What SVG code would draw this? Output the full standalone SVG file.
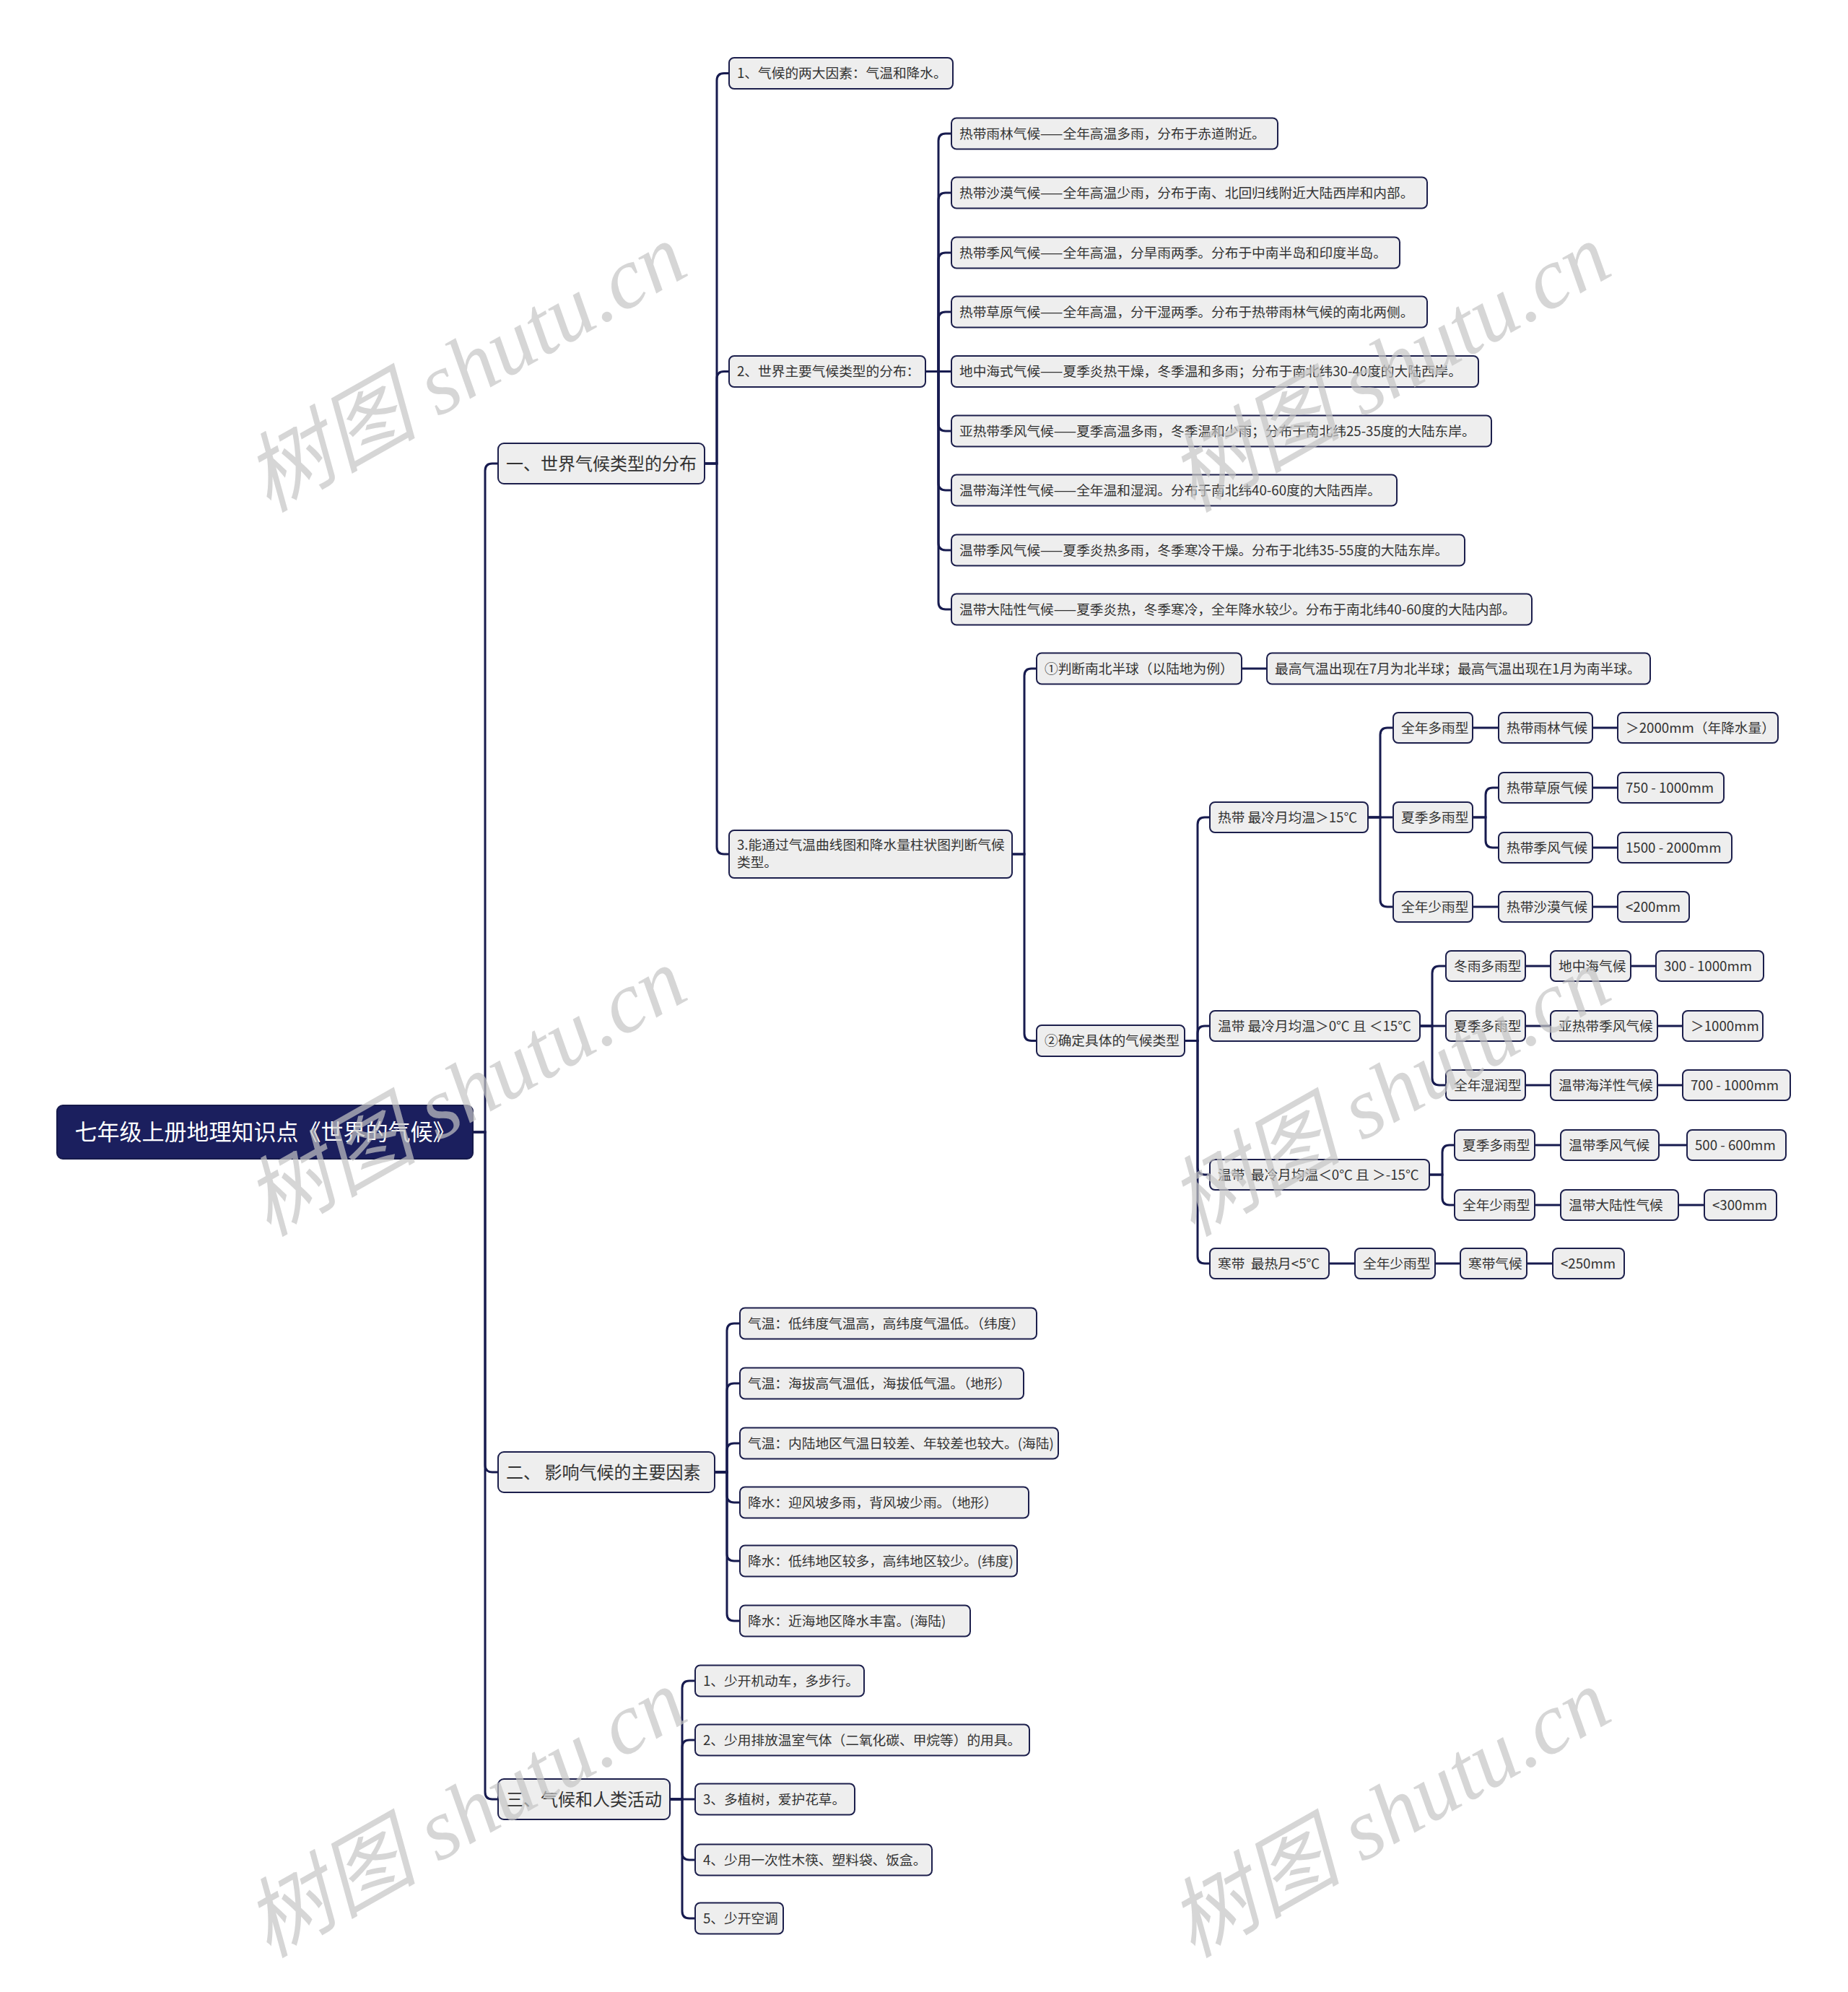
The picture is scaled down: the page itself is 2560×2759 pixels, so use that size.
<svg xmlns="http://www.w3.org/2000/svg" width="2560" height="2759" viewBox="0 0 2560 2759">
<style>
text { white-space: pre; font-family: "Noto Sans CJK SC", "Noto Sans", "Liberation Sans", sans-serif; }
.n rect { fill: #eeeeee; stroke: #1c1f4c; stroke-width: 2; }
.n text { font-size: 18.7px; fill: #333333; }
.l1 rect { fill: #eeeeee; stroke: #1c1f4c; stroke-width: 2; }
.l1 text { font-size: 24px; fill: #333333; }
.root rect { fill: #1b1f5e; stroke: #15194a; stroke-width: 2; }
.root text { font-size: 31px; fill: #ffffff; text-anchor: middle; }
.c path { fill: none; stroke: #171b4f; stroke-width: 3; }
.wm text { font-family: "Liberation Serif", "Noto Sans CJK SC", serif; font-style: italic; font-size: 120px; fill: #c4c4c4; fill-opacity: 0.7; text-anchor: middle; }
</style>
<rect width="2560" height="2759" fill="#ffffff"/>

<g id="connectors" class="c">
<path d="M655 1568 H672 V652 Q672 642 682 642 H690"/>
<path d="M655 1568 H672 V2029 Q672 2039 682 2039 H690"/>
<path d="M655 1568 H672 V2482 Q672 2492 682 2492 H690"/>

<path d="M976 642 H993 V111.5 Q993 101.5 1003 101.5 H1010"/>
<path d="M976 642 H993 V524.5 Q993 514.5 1003 514.5 H1010"/>
<path d="M976 642 H993 V1173 Q993 1183 1003 1183 H1010"/>

<path d="M1282 514.5 H1300 V195 Q1300 185 1310 185 H1318"/>
<path d="M1282 514.5 H1300 V277 Q1300 267 1310 267 H1318"/>
<path d="M1282 514.5 H1300 V360 Q1300 350 1310 350 H1318"/>
<path d="M1282 514.5 H1300 V442 Q1300 432 1310 432 H1318"/>
<path d="M1282 514.5 H1318"/>
<path d="M1282 514.5 H1300 V587 Q1300 597 1310 597 H1318"/>
<path d="M1282 514.5 H1300 V669 Q1300 679 1310 679 H1318"/>
<path d="M1282 514.5 H1300 V752 Q1300 762 1310 762 H1318"/>
<path d="M1282 514.5 H1300 V834 Q1300 844 1310 844 H1318"/>

<path d="M1402 1183 H1419 V936 Q1419 926 1429 926 H1436"/>
<path d="M1402 1183 H1419 V1431.5 Q1419 1441.5 1429 1441.5 H1436"/>
<path d="M1720 926 H1755"/>

<path d="M1641 1441.5 H1659 V1142 Q1659 1132 1669 1132 H1676"/>
<path d="M1641 1441.5 H1659 V1431 Q1659 1421 1669 1421 H1676"/>
<path d="M1641 1441.5 H1659 V1617 Q1659 1627 1669 1627 H1676"/>
<path d="M1641 1441.5 H1659 V1740 Q1659 1750 1669 1750 H1676"/>

<path d="M1895 1132 H1912 V1018 Q1912 1008 1922 1008 H1930"/>
<path d="M1895 1132 H1930"/>
<path d="M1895 1132 H1912 V1246 Q1912 1256 1922 1256 H1930"/>
<path d="M2040 1008 H2076"/>
<path d="M2206 1008 H2241"/>
<path d="M2040 1132 H2058 V1101 Q2058 1091 2068 1091 H2076"/>
<path d="M2040 1132 H2058 V1164 Q2058 1174 2068 1174 H2076"/>
<path d="M2206 1091 H2241"/>
<path d="M2206 1174 H2241"/>
<path d="M2040 1256 H2076"/>
<path d="M2206 1256 H2241"/>

<path d="M1967 1421 H1984 V1348 Q1984 1338 1994 1338 H2003"/>
<path d="M1967 1421 H2003"/>
<path d="M1967 1421 H1984 V1493 Q1984 1503 1994 1503 H2003"/>
<path d="M2113 1338 H2148"/>
<path d="M2259 1338 H2294"/>
<path d="M2113 1421 H2148"/>
<path d="M2296 1421 H2331"/>
<path d="M2113 1503 H2148"/>
<path d="M2296 1503 H2331"/>

<path d="M1980 1627 H1998 V1596 Q1998 1586 2008 1586 H2015"/>
<path d="M1980 1627 H1998 V1659 Q1998 1669 2008 1669 H2015"/>
<path d="M2126 1586 H2162"/>
<path d="M2298 1586 H2337"/>
<path d="M2126 1669 H2162"/>
<path d="M2325 1669 H2361"/>

<path d="M1841 1750 H1877"/>
<path d="M1988 1750 H2023"/>
<path d="M2115 1750 H2151"/>

<path d="M990 2039 H1007 V1843 Q1007 1833 1017 1833 H1025"/>
<path d="M990 2039 H1007 V1926 Q1007 1916 1017 1916 H1025"/>
<path d="M990 2039 H1007 V2009 Q1007 1999 1017 1999 H1025"/>
<path d="M990 2039 H1007 V2071 Q1007 2081 1017 2081 H1025"/>
<path d="M990 2039 H1007 V2152 Q1007 2162 1017 2162 H1025"/>
<path d="M990 2039 H1007 V2235 Q1007 2245 1017 2245 H1025"/>

<path d="M928 2492 H945 V2338 Q945 2328 955 2328 H963"/>
<path d="M928 2492 H945 V2420 Q945 2410 955 2410 H963"/>
<path d="M928 2492 H963"/>
<path d="M928 2492 H945 V2566 Q945 2576 955 2576 H963"/>
<path d="M928 2492 H945 V2647 Q945 2657 955 2657 H963"/>
</g>

<g id="root" class="root"><rect x="79" y="1531" width="576" height="74" rx="8"/><text x="367" y="1579">七年级上册地理知识点《世界的气候》</text></g>

<g id="s1" class="l1"><rect x="690" y="614" width="286" height="56" rx="8"/><text x="701" y="650.5">一、世界气候类型的分布</text></g>
<g id="s2" class="l1"><rect x="690" y="2011" width="300" height="56" rx="8"/><text x="701" y="2047.5">二、 影响气候的主要因素</text></g>
<g id="s3" class="l1"><rect x="690" y="2464" width="238" height="56" rx="8"/><text x="701" y="2500.5">三、气候和人类活动</text></g>

<g id="s1-1" class="n"><rect x="1010" y="80" width="310" height="43" rx="7"/><text x="1021" y="108">1、气候的两大因素：气温和降水。</text></g>
<g id="s1-2" class="n"><rect x="1010" y="493" width="272" height="43" rx="7"/><text x="1021" y="521">2、世界主要气候类型的分布：</text></g>
<g id="s1-3" class="n"><rect x="1010" y="1150" width="392" height="66" rx="7"/><text x="1021" y="1177">3.能通过气温曲线图和降水量柱状图判断气候</text><text x="1021" y="1201">类型。</text></g>

<g id="c1" class="n"><rect x="1318" y="163.5" width="452" height="43" rx="7"/><text x="1329" y="191.5">热带雨林气候——全年高温多雨，分布于赤道附近。</text></g>
<g id="c2" class="n"><rect x="1318" y="245.5" width="659" height="43" rx="7"/><text x="1329" y="273.5">热带沙漠气候——全年高温少雨，分布于南、北回归线附近大陆西岸和内部。</text></g>
<g id="c3" class="n"><rect x="1318" y="328.5" width="621" height="43" rx="7"/><text x="1329" y="356.5">热带季风气候——全年高温，分旱雨两季。分布于中南半岛和印度半岛。</text></g>
<g id="c4" class="n"><rect x="1318" y="410.5" width="659" height="43" rx="7"/><text x="1329" y="438.5">热带草原气候——全年高温，分干湿两季。分布于热带雨林气候的南北两侧。</text></g>
<g id="c5" class="n"><rect x="1318" y="493" width="730" height="43" rx="7"/><text x="1329" y="521">地中海式气候——夏季炎热干燥，冬季温和多雨；分布于南北纬30-40度的大陆西岸。</text></g>
<g id="c6" class="n"><rect x="1318" y="575.5" width="748" height="43" rx="7"/><text x="1329" y="603.5">亚热带季风气候——夏季高温多雨，冬季温和少雨；分布于南北纬25-35度的大陆东岸。</text></g>
<g id="c7" class="n"><rect x="1318" y="657.5" width="617" height="43" rx="7"/><text x="1329" y="685.5">温带海洋性气候——全年温和湿润。分布于南北纬40-60度的大陆西岸。</text></g>
<g id="c8" class="n"><rect x="1318" y="740.5" width="711" height="43" rx="7"/><text x="1329" y="768.5">温带季风气候——夏季炎热多雨，冬季寒冷干燥。分布于北纬35-55度的大陆东岸。</text></g>
<g id="c9" class="n"><rect x="1318" y="822.5" width="804" height="43" rx="7"/><text x="1329" y="850.5">温带大陆性气候——夏季炎热，冬季寒冷，全年降水较少。分布于南北纬40-60度的大陆内部。</text></g>

<g id="j1" class="n"><rect x="1436" y="904.5" width="284" height="43" rx="7"/><text x="1447" y="932.5">①判断南北半球（以陆地为例）</text></g>
<g id="j1a" class="n"><rect x="1755" y="904.5" width="531" height="43" rx="7"/><text x="1766" y="932.5">最高气温出现在7月为北半球；最高气温出现在1月为南半球。</text></g>
<g id="j2" class="n"><rect x="1436" y="1420" width="205" height="43" rx="7"/><text x="1447" y="1448">②确定具体的气候类型</text></g>

<g id="z1" class="n"><rect x="1676" y="1111" width="219" height="42" rx="7"/><text x="1687" y="1138.5">热带 最冷月均温＞15℃</text></g>
<g id="z2" class="n"><rect x="1676" y="1400" width="291" height="42" rx="7"/><text x="1687" y="1427.5">温带 最冷月均温＞0℃ 且 ＜15℃</text></g>
<g id="z3" class="n"><rect x="1676" y="1606" width="304" height="42" rx="7"/><text x="1687" y="1633.5">温带  最冷月均温＜0℃ 且 ＞-15℃</text></g>
<g id="z4" class="n"><rect x="1676" y="1729" width="165" height="42" rx="7"/><text x="1687" y="1756.5">寒带  最热月&lt;5℃</text></g>

<g id="t1" class="n"><rect x="1930" y="987" width="110" height="42" rx="7"/><text x="1941" y="1014.5">全年多雨型</text></g>
<g id="t1a" class="n"><rect x="2076" y="987" width="130" height="42" rx="7"/><text x="2087" y="1014.5">热带雨林气候</text></g>
<g id="t1b" class="n"><rect x="2241" y="987" width="222" height="42" rx="7"/><text x="2252" y="1014.5">＞2000mm（年降水量）</text></g>
<g id="t2" class="n"><rect x="1930" y="1111" width="110" height="42" rx="7"/><text x="1941" y="1138.5">夏季多雨型</text></g>
<g id="t2a" class="n"><rect x="2076" y="1070" width="130" height="42" rx="7"/><text x="2087" y="1097.5">热带草原气候</text></g>
<g id="t2b" class="n"><rect x="2241" y="1070" width="147" height="42" rx="7"/><text x="2252" y="1097.5">750 - 1000mm</text></g>
<g id="t2c" class="n"><rect x="2076" y="1153" width="130" height="42" rx="7"/><text x="2087" y="1180.5">热带季风气候</text></g>
<g id="t2d" class="n"><rect x="2241" y="1153" width="158" height="42" rx="7"/><text x="2252" y="1180.5">1500 - 2000mm</text></g>
<g id="t3" class="n"><rect x="1930" y="1235" width="110" height="42" rx="7"/><text x="1941" y="1262.5">全年少雨型</text></g>
<g id="t3a" class="n"><rect x="2076" y="1235" width="130" height="42" rx="7"/><text x="2087" y="1262.5">热带沙漠气候</text></g>
<g id="t3b" class="n"><rect x="2241" y="1235" width="99" height="42" rx="7"/><text x="2252" y="1262.5">&lt;200mm</text></g>

<g id="w1" class="n"><rect x="2003" y="1317" width="110" height="42" rx="7"/><text x="2014" y="1344.5">冬雨多雨型</text></g>
<g id="w1a" class="n"><rect x="2148" y="1317" width="111" height="42" rx="7"/><text x="2159" y="1344.5">地中海气候</text></g>
<g id="w1b" class="n"><rect x="2294" y="1317" width="149" height="42" rx="7"/><text x="2305" y="1344.5">300 - 1000mm</text></g>
<g id="w2" class="n"><rect x="2003" y="1400" width="110" height="42" rx="7"/><text x="2014" y="1427.5">夏季多雨型</text></g>
<g id="w2a" class="n"><rect x="2148" y="1400" width="148" height="42" rx="7"/><text x="2159" y="1427.5">亚热带季风气候</text></g>
<g id="w2b" class="n"><rect x="2331" y="1400" width="111" height="42" rx="7"/><text x="2342" y="1427.5">＞1000mm</text></g>
<g id="w3" class="n"><rect x="2003" y="1482" width="110" height="42" rx="7"/><text x="2014" y="1509.5">全年湿润型</text></g>
<g id="w3a" class="n"><rect x="2148" y="1482" width="148" height="42" rx="7"/><text x="2159" y="1509.5">温带海洋性气候</text></g>
<g id="w3b" class="n"><rect x="2331" y="1482" width="149" height="42" rx="7"/><text x="2342" y="1509.5">700 - 1000mm</text></g>

<g id="v1" class="n"><rect x="2015" y="1565" width="111" height="42" rx="7"/><text x="2026" y="1592.5">夏季多雨型</text></g>
<g id="v1a" class="n"><rect x="2162" y="1565" width="136" height="42" rx="7"/><text x="2173" y="1592.5">温带季风气候</text></g>
<g id="v1b" class="n"><rect x="2337" y="1565" width="137" height="42" rx="7"/><text x="2348" y="1592.5">500 - 600mm</text></g>
<g id="v2" class="n"><rect x="2015" y="1648" width="111" height="42" rx="7"/><text x="2026" y="1675.5">全年少雨型</text></g>
<g id="v2a" class="n"><rect x="2162" y="1648" width="163" height="42" rx="7"/><text x="2173" y="1675.5">温带大陆性气候</text></g>
<g id="v2b" class="n"><rect x="2361" y="1648" width="100" height="42" rx="7"/><text x="2372" y="1675.5">&lt;300mm</text></g>

<g id="k1" class="n"><rect x="1877" y="1729" width="111" height="42" rx="7"/><text x="1888" y="1756.5">全年少雨型</text></g>
<g id="k2" class="n"><rect x="2023" y="1729" width="92" height="42" rx="7"/><text x="2034" y="1756.5">寒带气候</text></g>
<g id="k3" class="n"><rect x="2151" y="1729" width="99" height="42" rx="7"/><text x="2162" y="1756.5">&lt;250mm</text></g>

<g id="f1" class="n"><rect x="1025" y="1811.5" width="411" height="43" rx="7"/><text x="1036" y="1839.5">气温：低纬度气温高，高纬度气温低。（纬度）</text></g>
<g id="f2" class="n"><rect x="1025" y="1894.5" width="393" height="43" rx="7"/><text x="1036" y="1922.5">气温：海拔高气温低，海拔低气温。（地形）</text></g>
<g id="f3" class="n"><rect x="1025" y="1977.5" width="441" height="43" rx="7"/><text x="1036" y="2005.5">气温：内陆地区气温日较差、年较差也较大。(海陆)</text></g>
<g id="f4" class="n"><rect x="1025" y="2059.5" width="400" height="43" rx="7"/><text x="1036" y="2087.5">降水：迎风坡多雨，背风坡少雨。（地形）</text></g>
<g id="f5" class="n"><rect x="1025" y="2140.5" width="384" height="43" rx="7"/><text x="1036" y="2168.5">降水：低纬地区较多，高纬地区较少。(纬度)</text></g>
<g id="f6" class="n"><rect x="1025" y="2223.5" width="319" height="43" rx="7"/><text x="1036" y="2251.5">降水：近海地区降水丰富。(海陆)</text></g>

<g id="h1" class="n"><rect x="963" y="2306.5" width="234" height="43" rx="7"/><text x="974" y="2334.5">1、少开机动车，多步行。</text></g>
<g id="h2" class="n"><rect x="963" y="2388.5" width="463" height="43" rx="7"/><text x="974" y="2416.5">2、少用排放温室气体（二氧化碳、甲烷等）的用具。</text></g>
<g id="h3" class="n"><rect x="963" y="2470.5" width="221" height="43" rx="7"/><text x="974" y="2498.5">3、多植树，爱护花草。</text></g>
<g id="h4" class="n"><rect x="963" y="2554.5" width="328" height="43" rx="7"/><text x="974" y="2582.5">4、少用一次性木筷、塑料袋、饭盒。</text></g>
<g id="h5" class="n"><rect x="963" y="2635.5" width="122" height="43" rx="7"/><text x="974" y="2663.5">5、少开空调</text></g>

<g id="watermarks" class="wm">
<text transform="translate(645,510) rotate(-29.5)" x="0" y="40">树图 shutu.cn</text>
<text transform="translate(1925,510) rotate(-29.5)" x="0" y="40">树图 shutu.cn</text>
<text transform="translate(645,1513) rotate(-29.5)" x="0" y="40">树图 shutu.cn</text>
<text transform="translate(1925,1513) rotate(-29.5)" x="0" y="40">树图 shutu.cn</text>
<text transform="translate(645,2512) rotate(-29.5)" x="0" y="40">树图 shutu.cn</text>
<text transform="translate(1925,2512) rotate(-29.5)" x="0" y="40">树图 shutu.cn</text>
</g>
</svg>
